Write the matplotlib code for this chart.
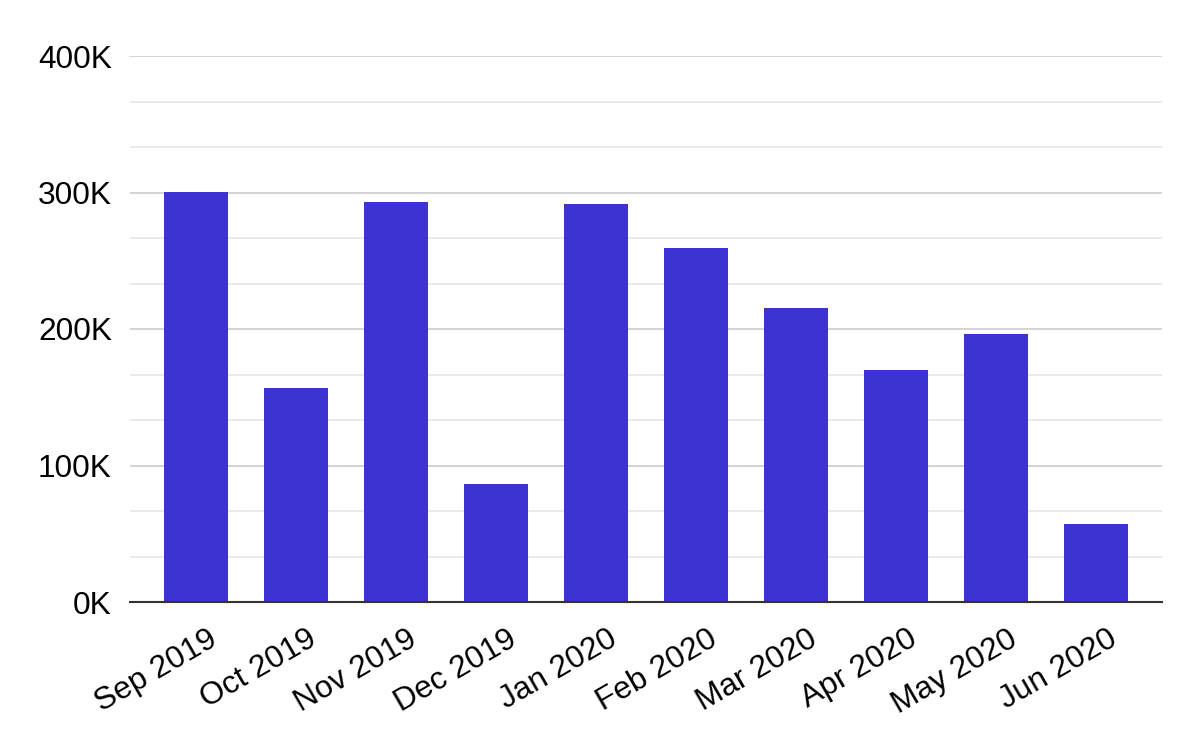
import matplotlib
matplotlib.use("Agg")
import matplotlib.pyplot as plt
from matplotlib.ticker import MultipleLocator, FuncFormatter

months = ["Sep 2019", "Oct 2019", "Nov 2019", "Dec 2019", "Jan 2020",
          "Feb 2020", "Mar 2020", "Apr 2020", "May 2020", "Jun 2020"]
values = [300400, 156800, 293000, 86400, 291600,
          259300, 215400, 170000, 196300, 57100]

plt.rcParams['font.family'] = ['Liberation Sans', 'DejaVu Sans']

fig = plt.figure(figsize=(12, 7.42), dpi=100)
ax = fig.add_axes([130 / 1200, 1 - 602 / 742, 1032 / 1200, 546 / 742])

x = list(range(len(months)))
ax.bar(x, values, width=0.64, color='#3d33d3', zorder=3)

ax.set_xlim(-0.66, len(months) - 1 + 0.66)
ax.set_ylim(0, 400000)
ax.yaxis.set_major_locator(MultipleLocator(100000))
ax.yaxis.set_minor_locator(MultipleLocator(100000 / 3))
ax.yaxis.set_major_formatter(FuncFormatter(lambda v, p: f"{int(round(v / 1000))}K"))
ax.grid(axis='y', which='major', color='#cccccc', linewidth=1.2, zorder=0)
ax.grid(axis='y', which='minor', color='#e6e6e6', linewidth=1.2, zorder=0)

# labels sit a little right of the bar centre (ticks are invisible anyway)
ax.set_xticks([i + 0.11 for i in x])
ax.set_xticklabels(months, rotation=30, ha='right', rotation_mode='anchor')

for s in ['top', 'right', 'left']:
    ax.spines[s].set_visible(False)
ax.spines['bottom'].set_color('#333333')
ax.spines['bottom'].set_linewidth(1.5)
ax.spines['bottom'].set_zorder(4)

ax.tick_params(axis='both', which='both', length=0, labelsize=22.8, colors='#000000')
ax.tick_params(axis='y', pad=13)
ax.tick_params(axis='x', pad=16)

fig.savefig("out.png", dpi=100)
